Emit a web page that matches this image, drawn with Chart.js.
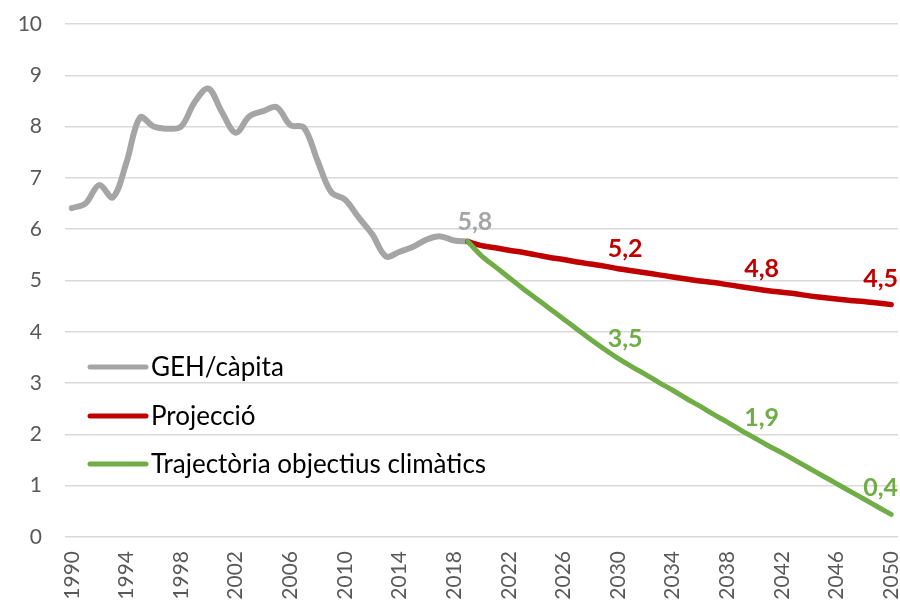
<!DOCTYPE html>
<html>
<head>
<meta charset="utf-8">
<script src="https://cdn.jsdelivr.net/npm/chart.js"></script>
<style>
  html, body { margin: 0; padding: 0; background: #fff; }
  #wrap { width: 900px; height: 602px; }
</style>
</head>
<body>
<div id="wrap"><canvas id="chart" width="900" height="602"></canvas></div>
<script>
// Years on the x axis (one category per year)
const firstYear = 1990;
const lastYear = 2050;
const years = [];
for (let y = firstYear; y <= lastYear; y++) years.push(String(y));

// GEH per capita, 1990-2019
const historic = [6.41, 6.5, 6.86, 6.62, 7.3, 8.18, 8.0, 7.96, 8.0, 8.48,
  8.74, 8.28, 7.88, 8.2, 8.3, 8.38, 8.03, 7.98, 7.33, 6.72,
  6.58, 6.23, 5.9, 5.47, 5.56, 5.66, 5.8, 5.86, 5.78, 5.76];

// Projection, 2019-2050
const projection = [5.76, 5.68, 5.64, 5.59, 5.55, 5.5, 5.45, 5.41, 5.36, 5.32,
  5.28, 5.23, 5.19, 5.15, 5.11, 5.07, 5.03, 4.99, 4.96, 4.92,
  4.88, 4.84, 4.8, 4.77, 4.74, 4.7, 4.67, 4.64, 4.61, 4.59,
  4.56, 4.53];

// Climate targets trajectory, 2019-2050
const target = [5.76, 5.48, 5.27, 5.06, 4.85, 4.65, 4.45, 4.25, 4.05, 3.85,
  3.66, 3.48, 3.32, 3.17, 3.01, 2.86, 2.7, 2.55, 2.39, 2.24,
  2.08, 1.93, 1.78, 1.64, 1.49, 1.34, 1.19, 1.04, 0.89, 0.74,
  0.59, 0.44];

const historicStart = '1990';
const futureStart = '2019';

// Years that get a value label
const historicLabelYears = ['2019'];
const projectionLabelYears = ['2030', '2040', '2050'];
const targetLabelYears = ['2030', '2040', '2050'];

const seriesNames = ['GEH/càpita', 'Projecció', 'Trajectòria objectius climàtics'];
const seriesColors = ['#A5A5A5', '#C00000', '#70AD47'];

// place a series on the full year axis, null elsewhere
function padSeries(values, startYear) {
  const out = years.map(() => null);
  const start = years.indexOf(startYear);
  values.forEach((v, i) => { out[start + i] = v; });
  return out;
}

const FONT = 'Lato, "Open Sans", sans-serif';

// draws value labels like "5,8" above chosen points
const valueLabels = {
  id: 'valueLabels',
  afterDatasetsDraw(chart) {
    const ctx = chart.ctx;
    ctx.save();
    ctx.font = 'bold 25px ' + FONT;
    ctx.textAlign = 'center';
    ctx.textBaseline = 'middle';
    chart.data.datasets.forEach((ds, di) => {
      const meta = chart.getDatasetMeta(di);
      (ds.labelYears || []).forEach(yr => {
        const idx = years.indexOf(yr);
        const pt = meta.data[idx];
        const txt = ds.data[idx].toFixed(1).replace('.', ',');
        const w = ctx.measureText(txt).width;
        let x = pt.x + 7;
        let y = pt.y - 20;
        if (x + w / 2 > chart.width - 2) {
          x = chart.width - 2 - w / 2;
          y = pt.y - 26;
        }
        ctx.fillStyle = ds.borderColor;
        ctx.fillText(txt, x, y);
      });
    });
    ctx.restore();
  }
};

// legend drawn inside the plot, lower left
const insideLegend = {
  id: 'insideLegend',
  afterDatasetsDraw(chart) {
    const ctx = chart.ctx;
    const rows = [367, 416, 464];
    ctx.save();
    ctx.font = '26px ' + FONT;
    ctx.textBaseline = 'middle';
    ctx.lineCap = 'round';
    chart.data.datasets.forEach((ds, i) => {
      const y = rows[i];
      ctx.strokeStyle = ds.borderColor;
      ctx.lineWidth = 5;
      ctx.beginPath();
      ctx.moveTo(90, y);
      ctx.lineTo(146, y);
      ctx.stroke();
      ctx.fillStyle = '#000';
      ctx.fillText(ds.label, 151, y + 1);
    });
    ctx.restore();
  }
};

new Chart(document.getElementById('chart'), {
  type: 'line',
  data: {
    labels: years,
    datasets: [
      {
        label: seriesNames[0],
        data: padSeries(historic, historicStart),
        borderColor: seriesColors[0],
        borderWidth: 6,
        labelYears: historicLabelYears,
        order: 3
      },
      {
        label: seriesNames[1],
        data: padSeries(projection, futureStart),
        borderColor: seriesColors[1],
        borderWidth: 5.5,
        labelYears: projectionLabelYears,
        order: 2
      },
      {
        label: seriesNames[2],
        data: padSeries(target, futureStart),
        borderColor: seriesColors[2],
        borderWidth: 5,
        labelYears: targetLabelYears,
        order: 1
      }
    ]
  },
  options: {
    responsive: false,
    animation: false,
    devicePixelRatio: 1,
    layout: { padding: { top: 24, right: 2, left: 0, bottom: 0 } },
    elements: {
      point: { radius: 0 },
      line: { tension: 0.35, borderCapStyle: 'round', borderJoinStyle: 'round', fill: false }
    },
    plugins: {
      legend: { display: false },
      tooltip: { enabled: false }
    },
    scales: {
      x: {
        type: 'category',
        offset: true,
        grid: { display: false, drawTicks: false },
        border: { display: false },
        ticks: {
          autoSkip: false,
          maxRotation: 90,
          minRotation: 90,
          padding: 14,
          color: '#595959',
          font: { family: FONT, size: 21 },
          callback: (v, i) => (i % 4 === 0 ? years[i] : '')
        },
        afterFit: scale => {
          scale.height = 65;
          scale.paddingLeft = 0;
          scale.paddingRight = 0;
        }
      },
      y: {
        min: 0,
        max: 10,
        grid: { color: '#D9D9D9', lineWidth: 1.5, drawTicks: false },
        border: { display: false },
        ticks: {
          stepSize: 1,
          padding: 23,
          color: '#595959',
          font: { family: FONT, size: 21 }
        },
        afterFit: scale => {
          scale.width = 65;
          scale.paddingTop = 0;
          scale.paddingBottom = 0;
        }
      }
    }
  },
  plugins: [valueLabels, insideLegend]
});
</script>
</body>
</html>
